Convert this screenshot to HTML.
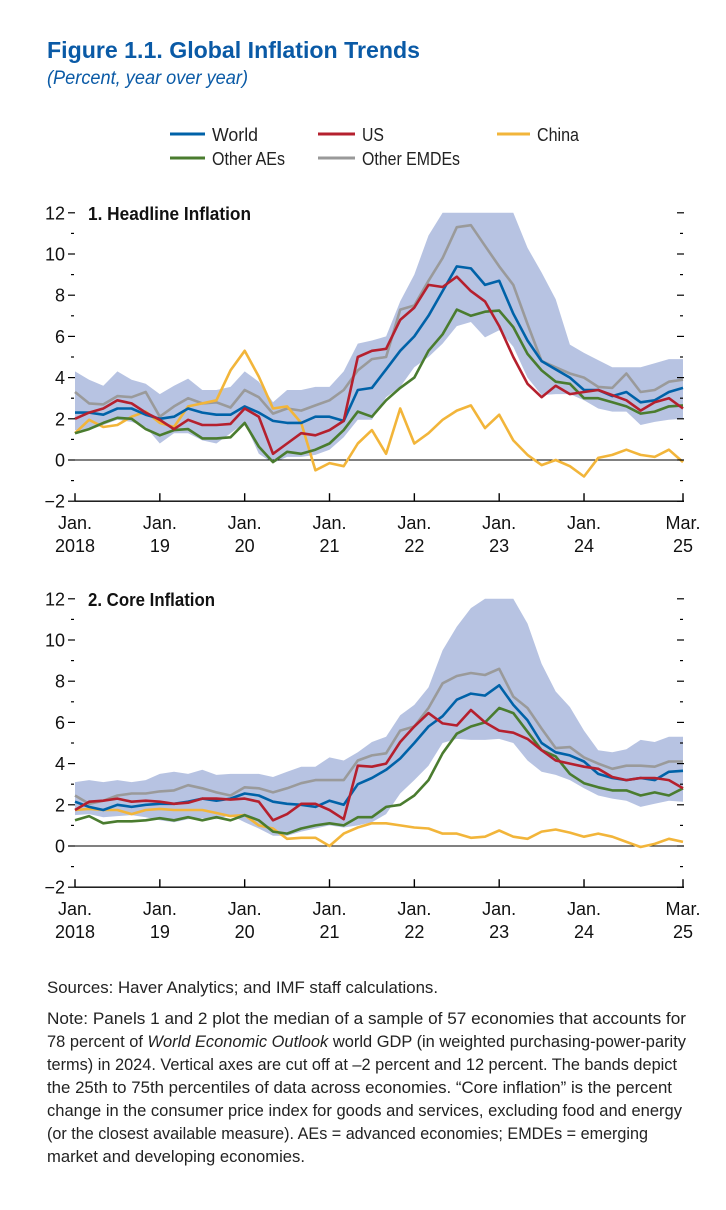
<!DOCTYPE html>
<html><head><meta charset="utf-8">
<style>
html,body{margin:0;padding:0;background:#fff;}
svg{display:block;font-family:"Liberation Sans",sans-serif;}
</style></head>
<body>
<svg id="fig" width="726" height="1210" viewBox="0 0 726 1210" xmlns="http://www.w3.org/2000/svg">
<text x="47" y="58" font-size="23" font-weight="bold" fill="#0a5aa6" textLength="373" lengthAdjust="spacingAndGlyphs">Figure 1.1.  Global Inflation Trends</text>
<text x="47" y="84" font-size="19" font-style="italic" fill="#0a5aa6" textLength="201" lengthAdjust="spacingAndGlyphs">(Percent, year over year)</text>
<g font-size="18" fill="#222">
<g><line x1="170" y1="134" x2="205" y2="134" stroke="#0062a8" stroke-width="3"/><text x="212" y="141" textLength="46" lengthAdjust="spacingAndGlyphs">World</text></g>
<g><line x1="318" y1="134" x2="355" y2="134" stroke="#b5202e" stroke-width="3"/><text x="362" y="141" textLength="22" lengthAdjust="spacingAndGlyphs">US</text></g>
<g><line x1="497" y1="134" x2="530" y2="134" stroke="#f2b53a" stroke-width="3"/><text x="537" y="141" textLength="42" lengthAdjust="spacingAndGlyphs">China</text></g>
<g><line x1="170" y1="158" x2="205" y2="158" stroke="#4a7c2f" stroke-width="3"/><text x="212" y="165" textLength="73" lengthAdjust="spacingAndGlyphs">Other AEs</text></g>
<g><line x1="318" y1="158" x2="355" y2="158" stroke="#999" stroke-width="3"/><text x="362" y="165" textLength="98" lengthAdjust="spacingAndGlyphs">Other EMDEs</text></g>
</g>
<g id="p1"></g>
<g id="p2"></g>
<g font-size="16.5" fill="#222">
<text x="47" y="993" textLength="391" lengthAdjust="spacingAndGlyphs">Sources: Haver Analytics; and IMF staff calculations.</text>
<text x="47" y="1024" textLength="639" lengthAdjust="spacingAndGlyphs">Note: Panels 1 and 2 plot the median of a sample of 57 economies that accounts for</text>
<text x="47" y="1047" textLength="639" lengthAdjust="spacingAndGlyphs">78 percent of <tspan font-style="italic">World Economic Outlook</tspan> world GDP (in weighted purchasing-power-parity</text>
<text x="47" y="1070" textLength="630" lengthAdjust="spacingAndGlyphs">terms) in 2024. Vertical axes are cut off at –2 percent and 12 percent. The bands depict</text>
<text x="47" y="1093" textLength="625" lengthAdjust="spacingAndGlyphs">the 25th to 75th percentiles of data across economies. “Core inflation” is the percent</text>
<text x="47" y="1116" textLength="635" lengthAdjust="spacingAndGlyphs">change in the consumer price index for goods and services, excluding food and energy</text>
<text x="47" y="1139" textLength="601" lengthAdjust="spacingAndGlyphs">(or the closest available measure). AEs = advanced economies; EMDEs = emerging</text>
<text x="47" y="1162" textLength="258" lengthAdjust="spacingAndGlyphs">market and developing economies.</text>
</g>
</svg>
<script>
// months since Jan 2018, sampled every 2 months (0..86)
const months = [0,2,4,6,8,10,12,14,16,18,20,22,24,26,28,30,32,34,36,38,40,42,44,46,48,50,52,54,56,58,60,62,64,66,68,70,72,74,76,78,80,82,84,86];
const xTickMonths = [0,12,24,36,48,60,72,86];
const xTickTop = ["Jan.","Jan.","Jan.","Jan.","Jan.","Jan.","Jan.","Mar."];
const xTickBottom = ["2018","19","20","21","22","23","24","25"];
const yTicks = [-2,0,2,4,6,8,10,12];

// Panel 1: headline
const h_world = [2.3,2.3,2.2,2.5,2.5,2.2,2.0,2.1,2.5,2.3,2.2,2.2,2.6,2.3,1.9,1.8,1.8,2.1,2.1,1.9,3.4,3.5,4.4,5.3,6.0,7.0,8.2,9.4,9.3,8.5,8.7,7.1,5.8,4.8,4.4,4.0,3.4,3.4,3.1,3.3,2.8,2.9,3.3,3.5];
const h_us = [2.0,2.3,2.5,2.9,2.75,2.3,1.95,1.5,1.95,1.7,1.7,1.75,2.5,2.1,0.3,0.8,1.3,1.2,1.45,1.9,5.0,5.3,5.4,6.8,7.4,8.5,8.4,8.9,8.2,7.7,6.5,5.0,3.7,3.05,3.6,3.2,3.3,3.4,3.15,2.9,2.4,2.8,3.0,2.5];
const h_china = [1.3,1.95,1.6,1.7,2.1,2.35,1.8,1.6,2.6,2.75,2.9,4.35,5.3,4.05,2.5,2.6,1.8,-0.5,-0.15,-0.3,0.8,1.45,0.3,2.5,0.8,1.3,1.95,2.4,2.65,1.55,2.2,0.95,0.25,-0.25,0.0,-0.3,-0.8,0.1,0.25,0.5,0.25,0.15,0.5,-0.1];
const h_otherAEs = [1.3,1.5,1.8,2.05,2.0,1.5,1.2,1.45,1.5,1.05,1.05,1.1,1.8,0.65,-0.1,0.4,0.3,0.5,0.8,1.45,2.35,2.1,2.9,3.5,4.0,5.3,6.1,7.3,7.0,7.2,7.25,6.45,5.15,4.35,3.8,3.7,3.0,3.0,2.8,2.6,2.25,2.35,2.6,2.65];
const h_otherEMDEs = [3.3,2.75,2.7,3.1,3.05,3.3,2.1,2.6,3.0,2.75,2.8,2.55,3.4,3.05,2.25,2.5,2.4,2.65,2.9,3.4,4.35,4.9,5.0,7.3,7.5,8.7,9.8,11.3,11.4,10.4,9.4,8.5,6.6,4.8,4.5,4.2,4.0,3.55,3.5,4.2,3.3,3.4,3.8,3.9];
const h_bandLow = [1.45,1.45,1.7,1.95,1.85,1.6,0.8,1.3,1.3,0.95,0.8,1.3,1.8,0.3,-0.15,0.15,0.15,0.25,0.5,1.1,1.95,1.95,3.05,3.55,4.5,5.0,5.65,6.5,6.7,5.95,6.3,5.5,4.0,3.15,3.2,3.2,2.9,2.5,2.35,2.35,1.7,1.85,1.95,2.0];
const h_bandHigh = [4.3,3.9,3.6,4.3,3.9,3.7,3.2,3.6,3.95,3.4,3.4,3.55,4.3,3.8,2.8,3.4,3.4,3.55,3.55,4.3,5.65,5.8,6.0,7.7,9.0,10.9,13,14,14,14,14,13,10.3,9.1,7.8,5.6,5.2,4.85,4.5,4.5,4.5,4.7,4.9,4.9];

// Panel 2: core
const c_world = [2.15,1.9,1.75,2.0,1.9,2.0,2.05,2.05,2.15,2.3,2.2,2.3,2.55,2.45,2.15,2.05,2.0,1.9,2.2,2.0,3.0,3.3,3.7,4.25,5.0,5.8,6.3,7.1,7.4,7.3,7.8,6.85,6.1,5.0,4.55,4.4,4.1,3.5,3.3,3.2,3.3,3.2,3.6,3.65];
const c_us = [1.75,2.15,2.2,2.3,2.15,2.2,2.15,2.05,2.1,2.3,2.3,2.25,2.3,2.15,1.25,1.55,2.05,2.05,1.75,1.3,3.9,3.85,4.0,5.05,5.8,6.45,5.95,5.85,6.6,6.0,5.6,5.5,5.2,4.65,4.15,4.0,3.85,3.75,3.35,3.2,3.3,3.3,3.2,2.8];
const c_china = [1.75,1.8,1.75,1.75,1.55,1.75,1.8,1.75,1.75,1.75,1.6,1.45,1.5,1.0,0.85,0.35,0.4,0.4,0.0,0.6,0.9,1.1,1.1,1.0,0.9,0.85,0.6,0.6,0.4,0.45,0.75,0.45,0.35,0.7,0.8,0.65,0.45,0.6,0.45,0.2,-0.05,0.1,0.35,0.2];
const c_otherAEs = [1.25,1.45,1.1,1.2,1.2,1.25,1.35,1.25,1.4,1.25,1.4,1.25,1.5,1.25,0.7,0.6,0.85,1.0,1.1,1.0,1.4,1.4,1.9,2.0,2.45,3.2,4.5,5.45,5.8,6.0,6.7,6.45,5.55,4.65,4.35,3.5,3.05,2.85,2.7,2.7,2.45,2.6,2.45,2.8];
const c_otherEMDEs = [2.45,2.05,2.2,2.45,2.55,2.55,2.65,2.7,2.95,2.8,2.6,2.45,2.85,2.8,2.6,2.8,3.05,3.2,3.2,3.2,4.15,4.4,4.5,5.6,5.8,6.7,7.9,8.25,8.4,8.3,8.6,7.25,6.7,5.7,4.75,4.8,4.3,4.0,3.75,3.9,3.9,3.85,4.1,4.1];
const c_bandLow = [1.5,1.55,1.4,1.45,1.5,1.4,1.25,1.15,1.3,1.35,1.3,1.5,1.15,0.85,0.5,0.5,0.7,0.85,1.0,0.9,1.0,1.15,1.55,2.55,3.2,3.9,5.0,5.2,5.15,5.15,5.2,5.0,4.15,3.6,3.45,3.2,2.8,2.45,2.3,2.2,1.9,2.05,2.2,2.15];
const c_bandHigh = [3.1,3.2,3.1,3.2,3.1,3.2,3.5,3.6,3.5,3.7,3.45,3.5,3.5,3.5,3.35,3.6,3.85,3.85,4.3,4.15,4.55,5.05,5.3,6.35,6.85,7.7,9.5,10.65,11.55,13,14,14,10.8,8.85,7.5,6.75,5.6,4.65,4.55,4.7,5.15,5.05,5.3,5.3];

const NS = "http://www.w3.org/2000/svg";
const X0 = 75, X1 = 683, MMAX = 86;
function xScale(m){ return X0 + (X1 - X0) * m / MMAX; }
function mk(tag, attrs, parent){
  const e = document.createElementNS(NS, tag);
  for (const k in attrs) e.setAttribute(k, attrs[k]);
  parent.appendChild(e);
  return e;
}
function clampV(v){ return Math.max(-2, Math.min(12, v)); }

function drawPanel(gid, zeroY, title, band, series, prefix){
  const g = document.getElementById(gid);
  const unit = 20.6;
  const yScale = v => zeroY - unit * clampV(v);
  // band
  let d = "";
  months.forEach((m,i)=>{ d += (i?"L":"M") + xScale(m).toFixed(1) + "," + yScale(band[1][i]).toFixed(1); });
  for (let i = months.length-1; i >= 0; i--) d += "L" + xScale(months[i]).toFixed(1) + "," + yScale(band[0][i]).toFixed(1);
  const b = mk("path", {d: d + "Z", fill: "#b7c3e2", stroke: "none"}, g);
  
  
  // zero line
  const z = mk("line", {x1: X0, x2: X1, y1: yScale(0), y2: yScale(0), stroke: "#000", "stroke-width": 1}, g);
  
  
  // series
  series.forEach(s => {
    let p = "";
    months.forEach((m,i)=>{ p += (i?"L":"M") + xScale(m).toFixed(1) + "," + yScale(s.v[i]).toFixed(1); });
    const l = mk("path", {d: p, fill: "none", stroke: s.c, "stroke-width": 2.6, "stroke-linejoin": "round"}, g);
    
    
  });
  // y axis ticks & labels
  const ya = mk("g", {}, g);
  
  
  for (let v = -2; v <= 12; v++) {
    const y = yScale(v);
    const major = v % 2 === 0;
    mk("line", {x1: major ? 68 : 71, x2: major ? 75 : 74, y1: y, y2: y, stroke: "#000", "stroke-width": 1.2}, ya);
    mk("line", {x1: major ? 677 : 680, x2: major ? 684 : 683, y1: y, y2: y, stroke: "#000", "stroke-width": 1.2}, ya);
  }
  yTicks.forEach(v => {
    const t = mk("text", {x: 65, y: yScale(v) + 6.5, "text-anchor": "end", "font-size": 18, fill: "#111"}, ya);
    t.textContent = v < 0 ? "\u2212" + Math.abs(v) : String(v);
  });
  // title
  const tt = mk("text", {x: 88, y: yScale(12) + 7, "font-size": 18, "font-weight": "bold", fill: "#111", textLength: title.len, lengthAdjust: "spacingAndGlyphs"}, g);
  tt.textContent = title.t;
  
  
  // x axis
  const xa = mk("g", {}, g);
  
  
  const by = yScale(-2);
  mk("line", {x1: X0, x2: X1 + 1, y1: by, y2: by, stroke: "#000", "stroke-width": 1.4}, xa);
  xTickMonths.forEach((m,i) => {
    const x = xScale(m);
    mk("line", {x1: x, x2: x, y1: by, y2: by - 8, stroke: "#000", "stroke-width": 1.4}, xa);
    const t1 = mk("text", {x: x, y: by + 28, "text-anchor": "middle", "font-size": 18, fill: "#111"}, xa);
    t1.textContent = xTickTop[i];
    const t2 = mk("text", {x: x, y: by + 51, "text-anchor": "middle", "font-size": 18, fill: "#111"}, xa);
    t2.textContent = xTickBottom[i];
  });
}

drawPanel("p1", 460, {t: "1. Headline Inflation", len: 163}, [h_bandLow, h_bandHigh], [
  {n: "other-emdes", c: "#9a9a9a", v: h_otherEMDEs},
  {n: "china", c: "#f2b53a", v: h_china},
  {n: "other-aes", c: "#4a7c2f", v: h_otherAEs},
  {n: "world", c: "#0062a8", v: h_world},
  {n: "us", c: "#b5202e", v: h_us}
], "headline");
drawPanel("p2", 846, {t: "2. Core Inflation", len: 127}, [c_bandLow, c_bandHigh], [
  {n: "other-emdes", c: "#9a9a9a", v: c_otherEMDEs},
  {n: "china", c: "#f2b53a", v: c_china},
  {n: "other-aes", c: "#4a7c2f", v: c_otherAEs},
  {n: "world", c: "#0062a8", v: c_world},
  {n: "us", c: "#b5202e", v: c_us}
], "core");
</script>
</body></html>
